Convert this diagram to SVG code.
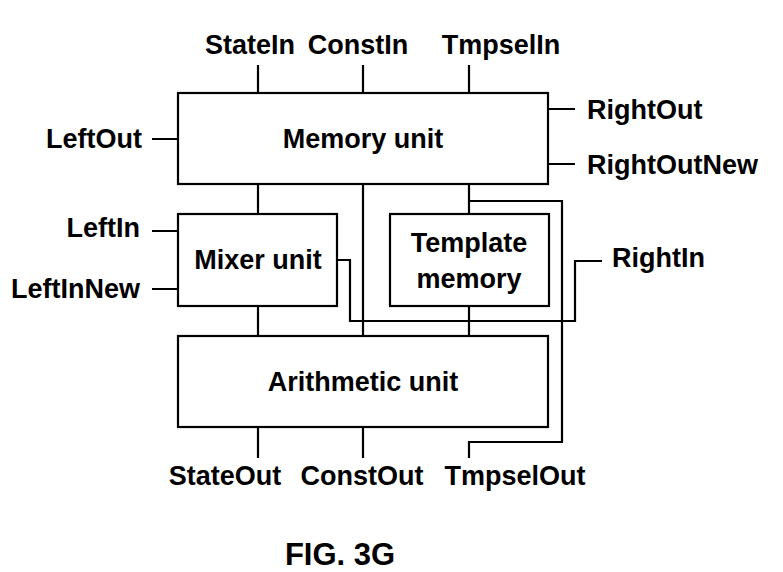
<svg xmlns="http://www.w3.org/2000/svg" width="783" height="572" viewBox="0 0 783 572">
<style>
.box{fill:#fff;stroke:#000;stroke-width:2.2}
.ln{fill:none;stroke:#000;stroke-width:2.2}
text{font-family:"Liberation Sans",Arial,sans-serif;font-weight:bold;font-size:27px;fill:#000}
.m{text-anchor:middle}
.e{text-anchor:end}
</style>
<rect width="783" height="572" fill="#fff"/>
<g id="connectors">
<path class="ln" d="M258 65V93M363 65V93M469 65V93"/>
<path class="ln" d="M152 139H178M548 109H575M548 164H575"/>
<path class="ln" d="M152 231H178M152 289H178"/>
<path class="ln" d="M258 184V214M469 184V214M363 184V336"/>
<path class="ln" d="M258 306V336M469 306V336"/>
<path class="ln" d="M469 201H562V442H469V458"/>
<path class="ln" d="M337 260H350V321H575V261H602"/>
<path class="ln" d="M258 427V458M363 427V458"/>
</g>
<g id="memory-unit"><rect class="box" x="178" y="93" width="370" height="91"/><text class="m" x="363" y="148">Memory unit</text></g>
<g id="mixer-unit"><rect class="box" x="178" y="214" width="159" height="92"/><text class="m" x="258" y="269">Mixer unit</text></g>
<g id="template-memory"><rect class="box" x="390" y="214" width="159" height="92"/><text class="m" x="469" y="252">Template</text><text class="m" x="469" y="288">memory</text></g>
<g id="arithmetic-unit"><rect class="box" x="178" y="336" width="370" height="91"/><text class="m" x="363" y="391">Arithmetic unit</text></g>
<g id="labels">
<text class="m" x="250" y="54">StateIn</text>
<text class="m" x="358" y="54">ConstIn</text>
<text class="m" x="501" y="54">TmpselIn</text>
<text class="e" x="142" y="148">LeftOut</text>
<text x="587" y="119">RightOut</text>
<text x="587" y="174">RightOutNew</text>
<text class="e" x="140" y="237">LeftIn</text>
<text class="e" x="140" y="298">LeftInNew</text>
<text x="612" y="267">RightIn</text>
<text class="m" x="225" y="485">StateOut</text>
<text class="m" x="362" y="485">ConstOut</text>
<text class="m" x="515" y="485">TmpselOut</text>
<text class="m" x="340" y="565" style="font-size:31px">FIG. 3G</text>
</g>
</svg>
